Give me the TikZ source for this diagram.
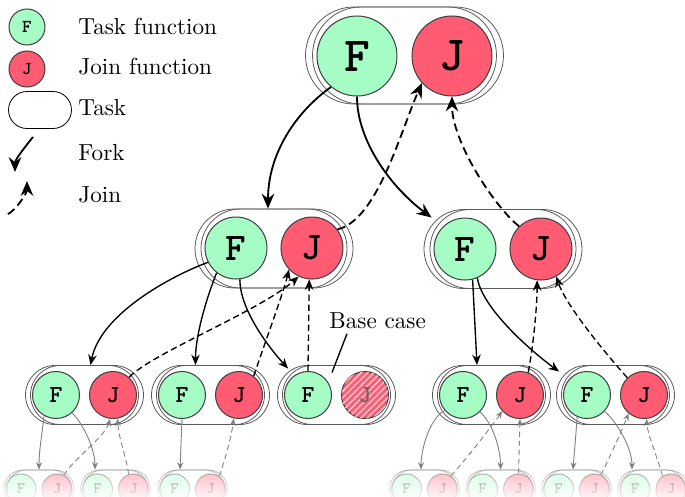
\documentclass[tikz,border=0pt]{standalone}
\usetikzlibrary{shapes.misc,arrows.meta,patterns.meta}
\definecolor{fgreen}{RGB}{165,252,197}
\definecolor{jred}{RGB}{255,92,115}
\def\pxu{0.44pt}
\tikzset{
  fn/.style={circle, draw=black!75, line width=0.45pt, inner sep=0pt},
  ffn/.style={fn, fill=fgreen},
  jfn/.style={fn, fill=jred},
  lv0/.style={minimum size=36*\pxu, font=\ttfamily\bfseries\fontsize{8}{8}\selectfont},
  lv1/.style={minimum size=80*\pxu, font=\ttfamily\bfseries\fontsize{21.6}{22}\selectfont},
  lv2/.style={minimum size=62*\pxu, font=\ttfamily\bfseries\fontsize{17.3}{18}\selectfont},
  lv3/.style={minimum size=47*\pxu, font=\ttfamily\bfseries\fontsize{10.8}{11}\selectfont},
  lv4/.style={minimum size=30*\pxu, font=\ttfamily\bfseries\fontsize{7}{7}\selectfont},
  tbox/.style={rounded rectangle, draw=black!65, line width=0.35pt, inner sep=0pt},
  legtext/.style={inner sep=0pt, font=\fontsize{10.2}{12}\selectfont},
  fork1/.style={-{Stealth[length=6.5pt,width=5.5pt]}, line width=0.8pt},
  join1/.style={fork1, dash pattern=on 3.6pt off 2pt},
  fork2/.style={-{Stealth[length=4.6pt,width=3.8pt]}, line width=0.6pt},
  join2/.style={fork2, dash pattern=on 2.8pt off 1.6pt},
  fork3/.style={-{Stealth[length=3.2pt,width=2.6pt]}, line width=0.4pt, draw=black!50},
  join3/.style={fork3, dash pattern=on 2.4pt off 1.6pt},
}
% name, cx, cy, total width, height, shift
\newcommand\mytaskbox[6]{%
  \node[tbox, minimum width={(#4-#6)*\pxu}, minimum height={#5*\pxu}] at ({#2-#6/2},#3) {};
  \node[tbox, minimum width={(#4-#6)*\pxu}, minimum height={#5*\pxu}] at ({#2+#6/2},#3) {};
  \node[inner sep=0pt, minimum width={#4*\pxu}, minimum height={#5*\pxu}] (#1) at (#2,#3) {};}
\begin{document}
\begin{tikzpicture}[x=\pxu, y=-\pxu]
\useasboundingbox (0,0) rectangle (685,496);

% ---------- legend
\node[ffn, lv0] (LF) at (27,27) {F};
\node[jfn, lv0] (LJ) at (27,69) {J};
\node[tbox, draw=black, minimum width=63*\pxu, minimum height=37*\pxu] (LT) at (40,110) {};
\node[legtext, anchor=base west] (tF) at (78,34) {Task function};
\node[legtext, anchor=base west] (tJ) at (78,74) {Join function};
\node[legtext, anchor=base west] (tT) at (78,115) {Task};
\node[legtext, anchor=base west] (tK) at (78,160) {Fork};
\node[legtext, anchor=base west] (tN) at (78,202) {Join};
\coordinate (fk1) at (33,137); \coordinate (fk2) at (15,172);
\draw[fork1] (fk1) .. controls +(-9,11) and +(0,-12) .. (fk2);
\coordinate (jn1) at (8,214); \coordinate (jn2) at (27,181);
\draw[join1] (jn1) .. controls +(8,-4) and +(0,12) .. (jn2);

% ---------- level 1
\mytaskbox{B1}{404.5}{55.5}{198}{97}{7}
\node[ffn, lv1] (F1) at (357,56) {F};
\node[jfn, lv1] (J1) at (452,56) {J};

% ---------- level 2
\mytaskbox{B2a}{274}{248.5}{158}{79}{6}
\node[ffn, lv2] (F2a) at (236,248) {F};
\node[jfn, lv2] (J2a) at (312,248) {J};
\mytaskbox{B2b}{503}{249}{158}{79}{6}
\node[ffn, lv2] (F2b) at (465,249) {F};
\node[jfn, lv2] (J2b) at (541,249) {J};

% ---------- level 3
\mytaskbox{B3a}{84.5}{395}{118}{59}{5}
\node[ffn, lv3] (F3a) at (56,395) {F};
\node[jfn, lv3] (J3a) at (113,395) {J};
\mytaskbox{B3b}{210.5}{395}{118}{59}{5}
\node[ffn, lv3] (F3b) at (182,395) {F};
\node[jfn, lv3] (J3b) at (239,395) {J};
\mytaskbox{B3c}{336.5}{395}{118}{59}{5}
\node[ffn, lv3] (F3c) at (308,395) {F};
\node[jfn, lv3, text=black!60, postaction={pattern={Lines[angle=45,distance=2pt,line width=0.6pt]}, pattern color=white!70!jred}] (J3c) at (365,395) {J};
\mytaskbox{B3d}{491.5}{395}{118}{59}{5}
\node[ffn, lv3] (F3d) at (463,395) {F};
\node[jfn, lv3] (J3d) at (520,395) {J};
\mytaskbox{B3e}{615.5}{395}{118}{59}{5}
\node[ffn, lv3] (F3e) at (587,395) {F};
\node[jfn, lv3] (J3e) at (644,395) {J};

% ---------- level 4 (faded)
\begin{scope}[opacity=0.45]
\foreach \n/\c in {a/39, b/115.5, c/192.5, d/424.5, e/500.5, f/576.5, g/653}{
  \mytaskbox{B4\n}{\c}{489}{70}{38}{3}
  \node[ffn, lv4] (F4\n) at ({\c-18},489) {F};
  \node[jfn, lv4] (J4\n) at ({\c+18},489) {J};
}
\end{scope}

% ---------- base case label
\node[legtext, anchor=base west] (bc) at (329,328) {Base case};
\coordinate (bcend) at ([xshift=-4.5*\pxu,yshift=-7.5*\pxu]B3c.north);
\draw[line width=0.6pt] ([xshift=18*\pxu,yshift=-5*\pxu]bc.south west) -- (bcend);

% ---------- level 1 forks / joins
\draw[fork1] (F1.230) .. controls +(-35,25) and +(0,-55) .. ([xshift=-6*\pxu]B2a.north);
\draw[fork1] (F1.south) .. controls +(0,45) and +(-40,-30) .. ([xshift=8*\pxu,yshift=-8.5*\pxu]B2b.north west);
\draw[join1] (J2a.36) .. controls +(40,-10) and +(-22,50) .. (J1.222);
\draw[join1] (J2b.134) .. controls +(-25,-20) and +(0,45) .. (J1.south);

% ---------- level 2 forks / joins
\draw[fork2] (F2a.207) .. controls +(-40,15) and +(10,-50) .. ([xshift=6*\pxu]B3a.north);
\draw[fork2] (F2a.232) .. controls +(-10,25) and +(0,-30) .. ([xshift=-15*\pxu]B3b.north);
\draw[fork2] (F2a.-83) .. controls +(0,30) and +(-20,-22) .. ([xshift=11*\pxu,yshift=-3.5*\pxu]B3c.north west);
\draw[join2] (J3a.48) .. controls +(25,-25) and +(-40,35) .. (J2a.245);
\draw[join2] (J3b.52) .. controls +(8,-25) and +(-6,25) .. (J2a.223);
\draw[join2] (F3c.north) -- (J2a.265);
\draw[fork2] (F2b.-76) -- ([xshift=-14.5*\pxu]B3d.north);
\draw[fork2] (F2b.-67) .. controls +(5,30) and +(-30,-22) .. ([xshift=3*\pxu,yshift=-6.5*\pxu]B3e.north west);
\draw[join2] (J3d.70) .. controls +(5,-25) and +(0,25) .. (J2b.263);
\draw[join2] (J3e.134) .. controls +(-18,-20) and +(10,30) .. (J2b.-61);

% ---------- level 3 forks / joins
\draw[fork3] (F3a.240) .. controls +(-2,20) and +(0,-20) .. (B4a.north);
\draw[fork3] (F3a.-48) .. controls +(12,12) and +(0,-20) .. ([xshift=-20.5*\pxu]B4b.north);
\draw[join3] (J4a.63) .. controls +(8,-15) and +(-5,18) .. (J3a.263);
\draw[join3] (J4b.108) .. controls +(-3,-20) and +(1,20) .. (J3a.-79);
\draw[fork3] (F3b.south) -- ([xshift=-12.5*\pxu]B4c.north);
\draw[join3] (J4c.55) .. controls +(5,-15) and +(-2,18) .. (J3b.257);
\draw[fork3] (F3d.220) .. controls +(-15,8) and +(0,-20) .. ([xshift=-3.5*\pxu]B4d.north);
\draw[fork3] (F3d.-45) .. controls +(12,10) and +(0,-22) .. (B4e.north);
\draw[join3] (J4d.58) .. controls +(12,-12) and +(-8,12) .. (J3d.222);
\draw[join3] (J4e.north) -- (J3d.south);
\draw[fork3] (F3e.246) -- ([xshift=-3.5*\pxu]B4f.north);
\draw[fork3] (F3e.-43) .. controls +(12,10) and +(0,-22) .. ([xshift=-21*\pxu]B4g.north);
\draw[join3] (J4f.66) .. controls +(8,-15) and +(-6,15) .. (J3e.230);
\draw[join3] (J4g.123) .. controls +(-5,-18) and +(1,15) .. (J3e.-84);

% ---------- fade out at the bottom
\foreach \i in {0,...,15}{
  \fill[white, opacity={0.058*\i}] (-1,{467+2*\i}) rectangle (686,{469.2+2*\i});
}
\end{tikzpicture}
\end{document}
